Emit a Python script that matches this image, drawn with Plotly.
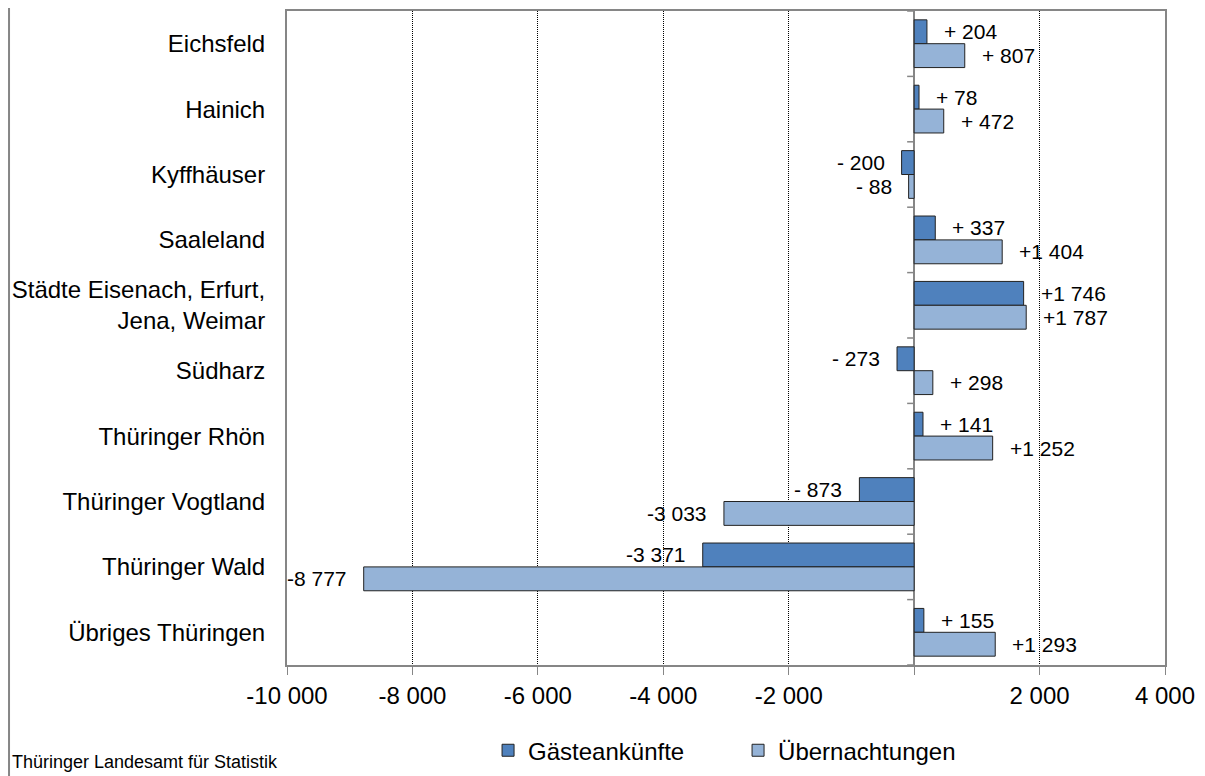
import plotly.graph_objects as go

categories = ["Eichsfeld", "Hainich", "Kyffhäuser", "Saaleland",
              "Städte Eisenach, Erfurt,<br>Jena, Weimar", "Südharz",
              "Thüringer Rhön", "Thüringer Vogtland", "Thüringer Wald",
              "Übriges Thüringen"]
gaeste = [204, 78, -200, 337, 1746, -273, 141, -873, -3371, 155]
uebern = [807, 472, -88, 1404, 1787, 298, 1252, -3033, -8777, 1293]
series_names = ["Gästeankünfte", "Übernachtungen"]
tick_vals = [-10000, -8000, -6000, -4000, -2000, 0, 2000, 4000]
tick_text = ["-10 000", "-8 000", "-6 000", "-4 000", "-2 000", "", "2 000", "4 000"]
source = "Thüringer Landesamt für Statistik"

FONT = "Liberation Sans, Arial, sans-serif"
C1 = "#4F81BD"
C2 = "#95B3D7"
GRAY = "#868686"


def fmt(v):
    sign = "+" if v > 0 else "-"
    a = abs(v)
    if a >= 1000:
        return sign + f"{a:,}".replace(",", " ")
    return sign + " " + str(a)


fig = go.Figure()
for name, vals, col in [(series_names[0], gaeste, C1), (series_names[1], uebern, C2)]:
    fig.add_trace(go.Bar(
        y=categories, x=vals, name=name, orientation="h",
        marker=dict(color=col, line=dict(color="#222222", width=1)),
        hoverinfo="x+y",
    ))

annotations = []
for vals, ysh in [(gaeste, 12), (uebern, -12)]:
    for cat, v in zip(categories, vals):
        annotations.append(dict(
            x=v, y=cat, xref="x", yref="y", text=fmt(v), showarrow=False,
            xanchor="left" if v > 0 else "right",
            xshift=15 if v > 0 else -15, yshift=ysh,
            font=dict(family=FONT, size=21, color="black"),
        ))

annotations.append(dict(
    x=-0.3155, y=-0.148, xref="paper", yref="paper", text=source,
    showarrow=False, xanchor="left", yanchor="middle",
    font=dict(family=FONT, size=18, color="black"),
))

shapes = []
for i in range(len(categories) + 1):
    shapes.append(dict(type="line", xref="x", yref="y", xsizemode="pixel",
                       xanchor=0, x0=-7, x1=0, y0=i - 0.5, y1=i - 0.5,
                       line=dict(color=GRAY, width=1.5)))
shapes.append(dict(type="line", xref="paper", yref="paper",
                   x0=-0.3166, x1=-0.3166, y0=-0.3, y1=1.2,
                   line=dict(color=GRAY, width=2)))

fig.update_layout(
    width=1197, height=768,
    margin=dict(l=279, r=40, t=3, b=111, autoexpand=False),
    paper_bgcolor="white", plot_bgcolor="white",
    barmode="group", bargap=0.27, bargroupgap=0,
    font=dict(family=FONT, size=24, color="black"),
    showlegend=True,
    legend=dict(orientation="h", x=0.229, y=0.033, yref="container",
                xanchor="left", yanchor="middle", font=dict(family=FONT, size=24),
                entrywidth=205, traceorder="normal", bgcolor="rgba(0,0,0,0)"),
    annotations=annotations,
    shapes=shapes,
)
fig.update_xaxes(
    range=[-10000, 4000], tickvals=tick_vals, ticktext=tick_text,
    showgrid=True, gridcolor="black", griddash="1px,1px", gridwidth=1,
    zeroline=True, zerolinecolor=GRAY, zerolinewidth=1.5,
    showline=True, linecolor=GRAY, linewidth=2, mirror=True,
    ticks="outside", ticklen=8, tickcolor=GRAY, tickwidth=1,
    tickfont=dict(family=FONT, size=24, color="black"),
)
fig.update_yaxes(
    type="category", range=[len(categories) - 0.5, -0.5],
    showgrid=False, showline=True, linecolor=GRAY, linewidth=2, mirror=True,
    ticks="", ticklabelstandoff=15,
    tickfont=dict(family=FONT, size=24, color="black"),
)

fig.write_html("out.html")
